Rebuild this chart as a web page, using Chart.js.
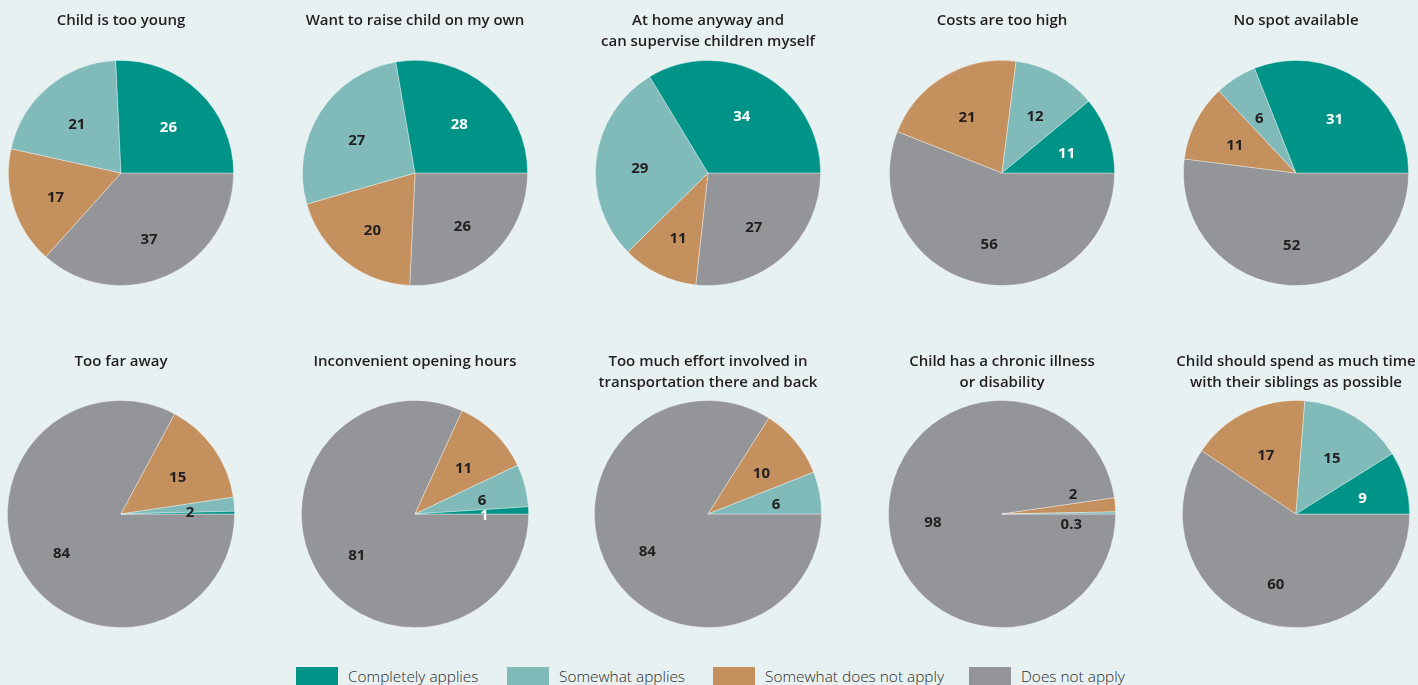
<!DOCTYPE html>
<html>
<head>
<meta charset="utf-8">
<script src="https://cdn.jsdelivr.net/npm/chart.js@4.4.1/dist/chart.umd.min.js"></script>
<style>
    html, body {
        margin: 0;
        padding: 0;
        width: 1418px;
        height: 685px;
        overflow: hidden;
        background: #e7f1f2;
        font-family: "Open Sans", sans-serif;
    }
    .pie {
        position: absolute;
    }
    #legend {
        position: absolute;
        top: 667px;
        left: 0;
        width: 1418px;
        height: 20px;
    }
    .item {
        position: absolute;
        top: 0;
        font-size: 15.4px;
        font-weight: 300;
        color: #2b2b2b;
        line-height: 19px;
        white-space: nowrap;
    }
    .item span {
        display: inline-block;
        width: 42px;
        height: 18px;
        vertical-align: top;
        margin-right: 10px;
    }
</style>
</head>
<body>
<div id="legend"></div>

<script>
// Survey answers, in percent
const titles = [
    ["Child is too young"],
    ["Want to raise child on my own"],
    ["At home anyway and", "can supervise children myself"],
    ["Costs are too high"],
    ["No spot available"],
    ["Too far away"],
    ["Inconvenient opening hours"],
    ["Too much effort involved in", "transportation there and back"],
    ["Child has a chronic illness", "or disability"],
    ["Child should spend as much time", "with their siblings as possible"],
];
const answerLabels = ["Completely applies", "Somewhat applies", "Somewhat does not apply", "Does not apply"];

const completelyApplies = [26, 28, 34, 11, 31, 0.4, 1, 0, 0, 9];
const somewhatApplies = [21, 27, 29, 12, 6, 2, 6, 6, 0.3, 15];
const somewhatNotApply = [17, 20, 11, 21, 11, 15, 11, 10, 2, 17];
const doesNotApply = [37, 26, 27, 56, 52, 84, 81, 84, 98, 60];

const colors = ["#009387", "#80bbba", "#c4905e", "#939598"];
const textDark = "#231f20";

// pie centres on the page
const centersX = [121, 415, 708, 1002, 1296];
const rowTop = [0, 340];

// label nudges for the thin slices: chart -> {answerIndex: [dx, dy]}
const nudges = {
    5: { 1: [0, 1] },
    8: { 1: [0, 7], 2: [2, -18] },
};
// teal sliver in "Too far away" carries no label
const hidden = { 5: [0] };

const sliceLabels = {
    id: "sliceLabels",
    afterDatasetsDraw(chart, args, opts) {
        const ctx = chart.ctx;
        const meta = chart.getDatasetMeta(0);
        const data = chart.data.datasets[0].data;
        ctx.save();
        ctx.font = "bold 15px 'Open Sans', sans-serif";
        ctx.textAlign = "center";
        ctx.textBaseline = "middle";
        meta.data.forEach((arc, i) => {
            const value = data[i];
            const answer = 3 - i;
            if (!value) return;
            if (opts.hidden && opts.hidden.includes(answer)) return;
            const p = arc.getProps(["x", "y", "startAngle", "endAngle", "outerRadius"], true);
            const mid = (p.startAngle + p.endAngle) / 2;
            const r = p.outerRadius * 0.61;
            let x = p.x + Math.cos(mid) * r;
            let y = p.y + Math.sin(mid) * r + 4;
            const n = opts.nudges && opts.nudges[answer];
            if (n) {
                x += n[0];
                y += n[1];
            }
            ctx.fillStyle = answer === 0 ? "#ffffff" : textDark;
            ctx.fillText(String(value), x, y);
        });
        ctx.restore();
    },
};

titles.forEach((title, k) => {
    const row = Math.floor(k / 5);
    const col = k % 5;
    const w = 270;
    const h = 300;

    const canvas = document.createElement("canvas");
    canvas.className = "pie";
    canvas.width = w;
    canvas.height = h;
    canvas.style.left = (centersX[col] - w / 2) + "px";
    canvas.style.top = rowTop[row] + "px";
    document.body.appendChild(canvas);

    const twoLines = title.length > 1;
    const padTop = row === 0 ? 10 : 11;
    const padBottom = (row === 0 ? 8 : 7) + (twoLines ? 0 : 21);

    // Chart.js draws clockwise, the reference runs counter-clockwise from 3 o'clock
    new Chart(canvas, {
        type: "pie",
        data: {
            labels: answerLabels.slice().reverse(),
            datasets: [
                {
                    data: [doesNotApply[k], somewhatNotApply[k], somewhatApplies[k], completelyApplies[k]],
                    backgroundColor: colors.slice().reverse(),
                    borderColor: "rgba(255, 255, 255, 0.45)",
                    borderWidth: 0.8,
                },
            ],
        },
        options: {
            responsive: false,
            animation: false,
            rotation: 90,
            layout: {
                padding: { top: 0, left: 0, right: 0, bottom: row === 0 ? 14 : 12 },
            },
            plugins: {
                legend: { display: false },
                tooltip: { enabled: false },
                title: {
                    display: true,
                    text: title,
                    color: textDark,
                    font: {
                        family: "'Open Sans', sans-serif",
                        size: 15,
                        weight: 600,
                        lineHeight: 1.4,
                    },
                    padding: { top: padTop, bottom: padBottom },
                },
                sliceLabels: {
                    nudges: nudges[k],
                    hidden: hidden[k],
                },
            },
        },
        plugins: [sliceLabels],
    });
});

// legend along the bottom
const legendX = [296, 507, 713, 969];
const legend = document.getElementById("legend");
answerLabels.forEach((label, i) => {
    const item = document.createElement("div");
    item.className = "item";
    item.style.left = legendX[i] + "px";
    item.innerHTML = '<span style="background:' + colors[i] + '"></span>' + label;
    legend.appendChild(item);
});
</script>
</body>
</html>
